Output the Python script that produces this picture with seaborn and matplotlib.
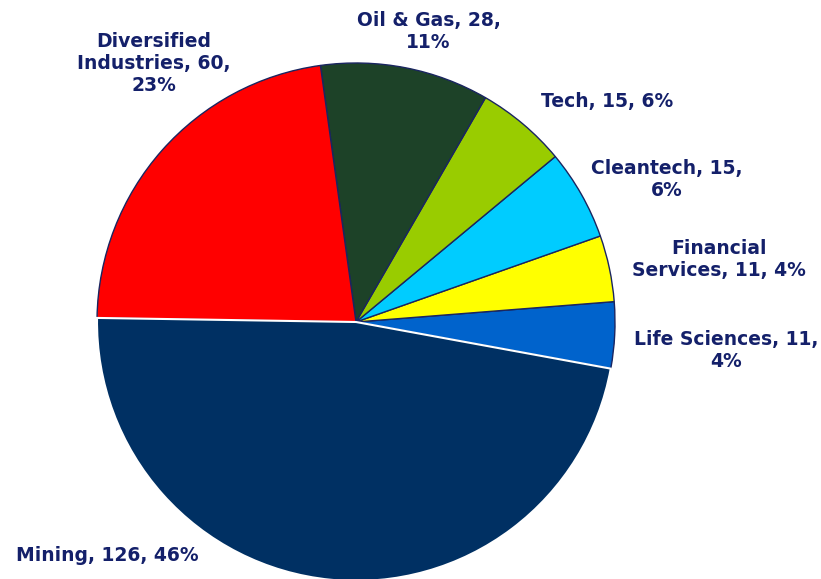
import matplotlib.pyplot as plt
import seaborn as sns

# sector breakdown (count of companies)
sectors = ["Mining", "Life Sciences", "Financial Services", "Cleantech",
           "Tech", "Oil & Gas", "Diversified Industries"]
counts = [126, 11, 11, 15, 15, 28, 60]
pct_labels = ["46%", "4%", "4%", "6%", "6%", "11%", "23%"]
label_text = [
    "Mining, 126, 46%",
    "Life Sciences, 11,\n4%",
    "Financial\nServices, 11, 4%",
    "Cleantech, 15,\n6%",
    "Tech, 15, 6%",
    "Oil & Gas, 28,\n11%",
    "Diversified\nIndustries, 60,\n23%",
]
colors = ["#003063", "#0063CC", "#FFFF00", "#00CCFF",
          "#99CC00", "#1D4228", "#FF0000"]

# label anchor points, in pie-radius units from the centre
label_pos = [(-0.96, -0.90), (1.43, -0.11), (1.40, 0.24), (1.20, 0.55),
             (0.97, 0.85), (0.28, 1.12), (-0.78, 1.00)]

TEXT = "#14206A"

sns.set_theme(style="white")
fig = plt.figure(figsize=(8.21, 5.79), dpi=100)
ax = fig.add_axes([0, 0, 1, 1])

wedges, _ = ax.pie(counts, colors=colors, startangle=179.1,
                   counterclock=True,
                   wedgeprops=dict(edgecolor="#1A2560", linewidth=1.0))
wedges[0].set_edgecolor("white")
wedges[0].set_linewidth(1.5)
wedges[0].set_zorder(5)

for txt, (x, y) in zip(label_text, label_pos):
    ax.text(x, y, txt, ha="center", va="center", color=TEXT,
            fontsize=13.5, fontweight="bold", family="DejaVu Sans",
            linespacing=1.2)

ax.set_xlim(-356 / 259, (821 - 356) / 259)
ax.set_ylim(-(579 - 322) / 259, 322 / 259)
ax.set_aspect("auto")
ax.axis("off")

fig.savefig("out.png", dpi=100, facecolor="white")
